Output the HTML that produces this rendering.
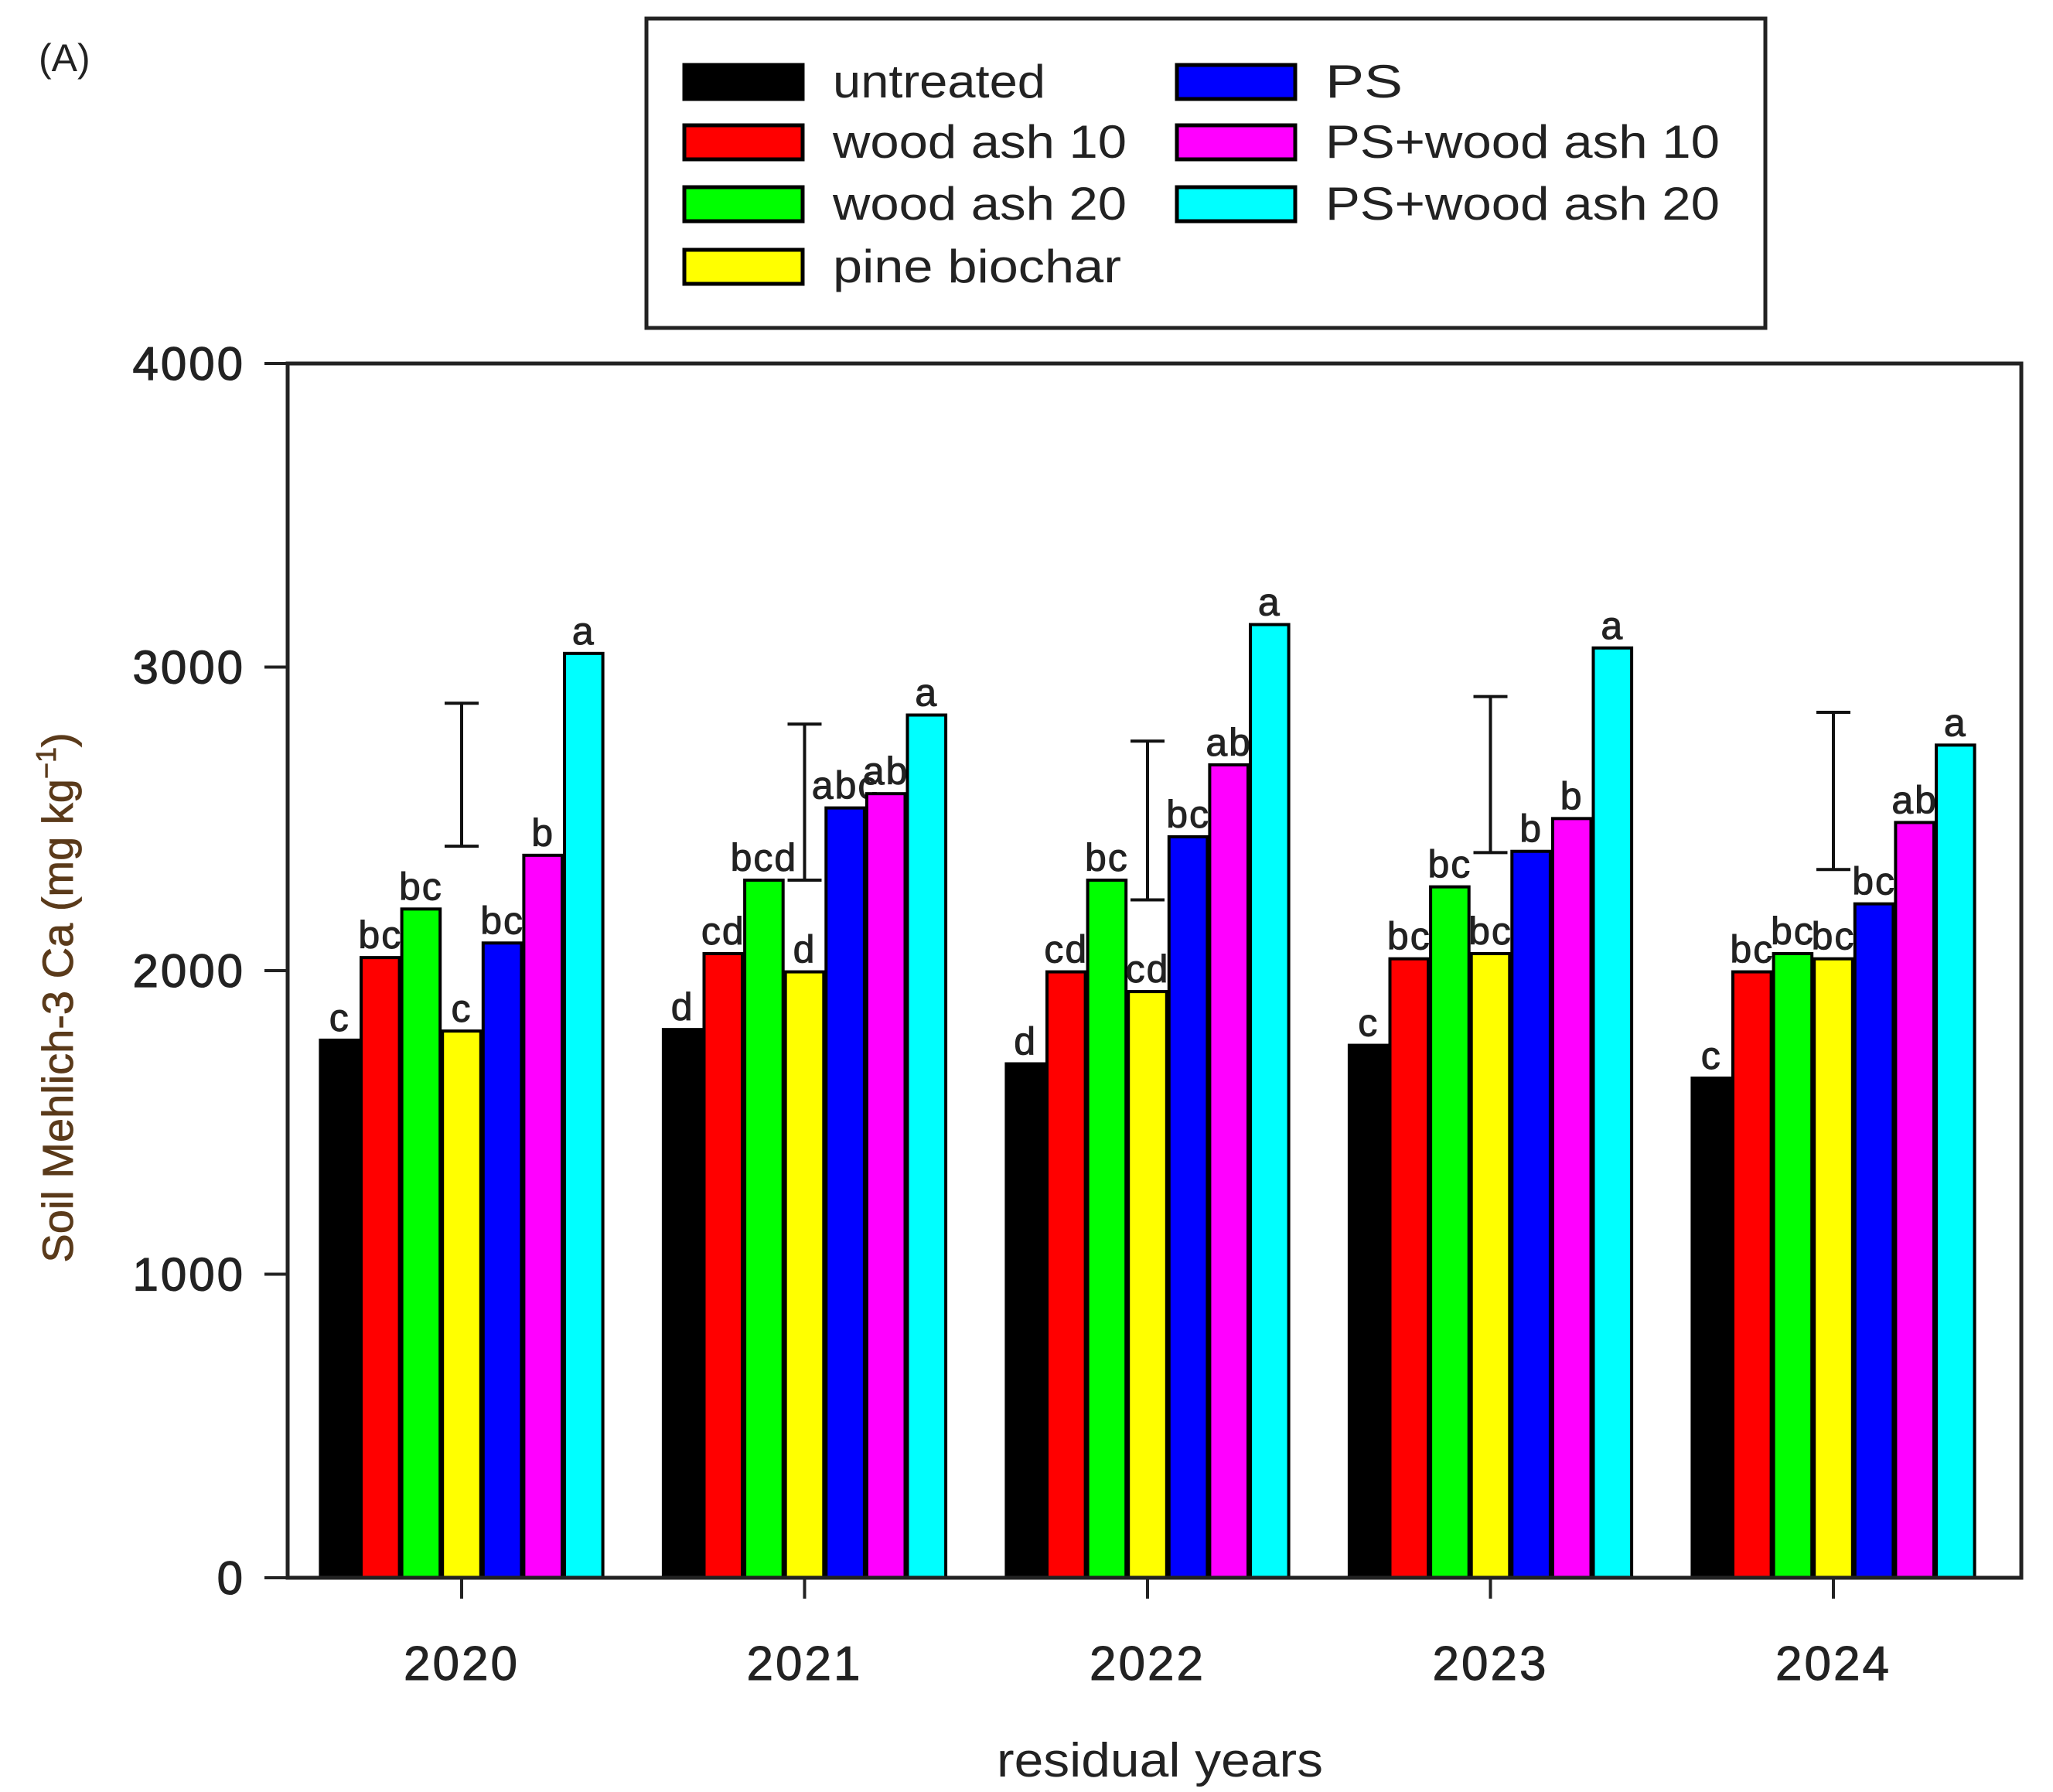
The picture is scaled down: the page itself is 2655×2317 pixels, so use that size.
<!DOCTYPE html>
<html><head><meta charset="utf-8"><style>
html,body{margin:0;padding:0;background:#fff;}
svg{display:block;font-family:"Liberation Sans",Arial,sans-serif;}
</style></head><body>
<svg id="chart" width="2655" height="2317" viewBox="0 0 2655 2317">
<text x="50" y="92" font-size="50" fill="#222">(A)</text>
<g id="legend">
<rect x="836" y="24" width="1447" height="400" fill="#fff" stroke="#222" stroke-width="5"/>
</g>
<g id="plot"></g>
<text x="0" y="0" transform="translate(94,1290) rotate(-90)" text-anchor="middle" font-size="56" fill="#5a3a1a" stroke="#5a3a1a" stroke-width="0.8">Soil Mehlich-3 Ca (mg kg<tspan dy="-22" font-size="36">−1</tspan><tspan dy="22">)</tspan></text>
<text x="1500" y="2297" text-anchor="middle" font-size="62" fill="#222" textLength="422" lengthAdjust="spacingAndGlyphs">residual years</text>
</svg>
<script>
const categories = ["2020","2021","2022","2023","2024"];
const seriesNames = ["untreated","wood ash 10","wood ash 20","pine biochar","PS","PS+wood ash 10","PS+wood ash 20"];
const seriesColors = ["#000000","#ff0000","#00ff00","#ffff00","#0000ff","#ff00ff","#00ffff"];
const untreated = [1771,1806,1693,1754,1646];
const woodAsh10 = [2043,2056,1996,2039,1996];
const woodAsh20 = [2203,2298,2298,2276,2056];
const pineBiochar = [1801,1996,1931,2056,2039];
const ps = [2091,2536,2441,2393,2220];
const psWoodAsh10 = [2380,2583,2678,2501,2488];
const psWoodAsh20 = [3045,2842,3140,3063,2743];
const lsdLow = [2410,2298,2233,2389,2333];
const lsdHigh = [2881,2812,2756,2903,2851];
const letters2020 = ["c","bc","bc","c","bc","b","a"];
const letters2021 = ["d","cd","bcd","d","abc","ab","a"];
const letters2022 = ["d","cd","bc","cd","bc","ab","a"];
const letters2023 = ["c","bc","bc","bc","b","b","a"];
const letters2024 = ["c","bc","bc","bc","bc","ab","a"];
const yTicks = [0,1000,2000,3000,4000];

const series = [untreated,woodAsh10,woodAsh20,pineBiochar,ps,psWoodAsh10,psWoodAsh20];
const letters = [letters2020,letters2021,letters2022,letters2023,letters2024];
const NS = "http://www.w3.org/2000/svg";
const L=372, R=2614, T=470, B=2040, YMAX=4000;
const y = v => B - v/YMAX*(B-T);
const xCenter = i => 597 + i*443.5;
const BW = 52.6;
const xBar = (i,s) => xCenter(i) + (s-3.5)*BW;
const plot = document.getElementById('plot');
function mk(tag, attrs){const e=document.createElementNS(NS,tag);for(const k in attrs)e.setAttribute(k,attrs[k]);return e;}

for(let s=0;s<series.length;s++){
  for(let i=0;i<categories.length;i++){
    const v=series[s][i];
    const r=mk('rect',{x:xBar(i,s)+1.5,y:y(v),width:BW-3,height:B-y(v),fill:seriesColors[s],stroke:'#000','stroke-width':4});
    
    
    plot.appendChild(r);
    const t=mk('text',{x:xBar(i,s)+BW/2,y:y(v)-12,'text-anchor':'middle','font-size':50,fill:'#222',stroke:'#222','stroke-width':1,'letter-spacing':2});
    t.textContent=letters[i][s];
    
    
    plot.appendChild(t);
  }
}
for(let i=0;i<categories.length;i++){
  const g=mk('g',{stroke:'#111','stroke-width':4,fill:'none'});
  
  
  const cx=xCenter(i);
  g.appendChild(mk('line',{x1:cx,x2:cx,y1:y(lsdLow[i]),y2:y(lsdHigh[i])}));
  g.appendChild(mk('line',{x1:cx-22,x2:cx+22,y1:y(lsdLow[i]),y2:y(lsdLow[i])}));
  g.appendChild(mk('line',{x1:cx-22,x2:cx+22,y1:y(lsdHigh[i]),y2:y(lsdHigh[i])}));
  plot.appendChild(g);
}
const frame=mk('rect',{x:L,y:T,width:R-L,height:B-T,fill:'none',stroke:'#222','stroke-width':5});


plot.appendChild(frame);
yTicks.forEach(v=>{
  const ln=mk('line',{x1:L-30,x2:L,y1:y(v),y2:y(v),stroke:'#222','stroke-width':4});
  
  
  plot.appendChild(ln);
  const t=mk('text',{x:L-55,y:y(v)+21,'text-anchor':'end','font-size':60,fill:'#222',stroke:'#222','stroke-width':1.2,'letter-spacing':3});
  t.textContent=v;
  
  
  plot.appendChild(t);
});
categories.forEach((c,i)=>{
  const ln=mk('line',{x1:xCenter(i),x2:xCenter(i),y1:B,y2:B+27,stroke:'#222','stroke-width':4});
  
  
  plot.appendChild(ln);
  const t=mk('text',{x:xCenter(i),y:2172,'text-anchor':'middle','font-size':62,fill:'#222',stroke:'#222','stroke-width':1,'letter-spacing':3});
  t.textContent=c;
  
  
  plot.appendChild(t);
});
const legend=document.getElementById('legend');
const legPos=[[885,106],[885,184],[885,264],[885,345],[1522,106],[1522,184],[1522,264]];
const legW=[275,380,380,373,100,510,510];
seriesNames.forEach((n,s)=>{
  const [lx,ly]=legPos[s];
  const r=mk('rect',{x:lx,y:ly-22,width:153,height:44,fill:seriesColors[s],stroke:'#000','stroke-width':5});
  
  
  legend.appendChild(r);
  const t=mk('text',{x:lx+192,y:ly+20,'font-size':60,fill:'#222',textLength:legW[s],lengthAdjust:'spacingAndGlyphs'});
  t.textContent=n;
  
  
  legend.appendChild(t);
});
</script>
</body></html>
